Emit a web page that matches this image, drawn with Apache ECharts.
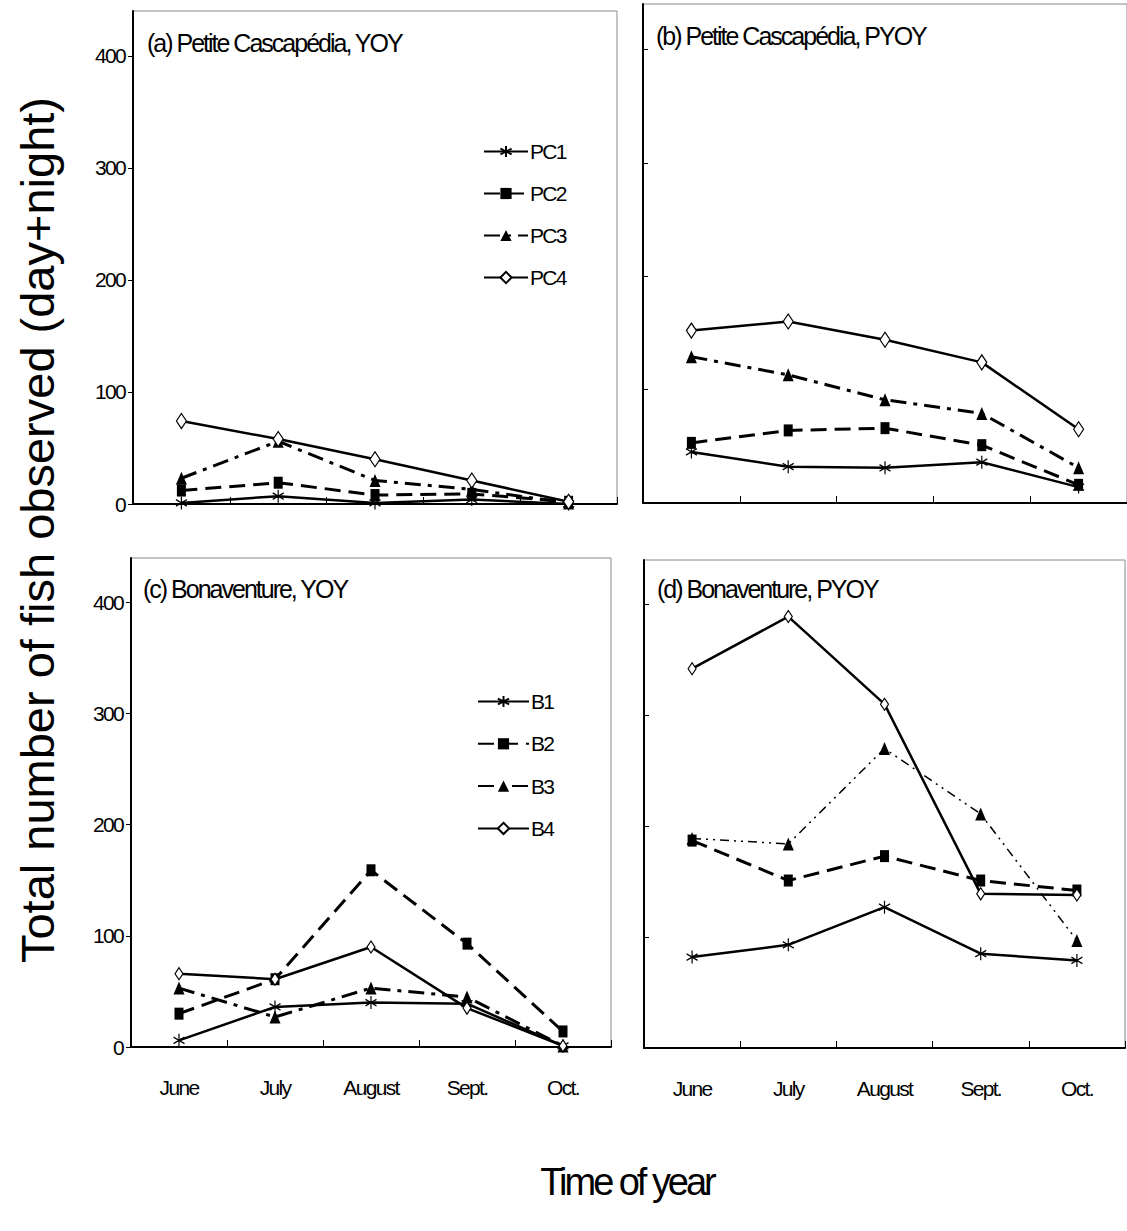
<!DOCTYPE html>
<html lang="en">
<head>
<meta charset="utf-8">
<title>Total number of fish observed</title>
<script src="https://cdn.jsdelivr.net/npm/echarts@6/dist/echarts.min.js"></script>
<style>
  html, body { margin: 0; padding: 0; background: #fff; }
  #main { width: 1127px; height: 1231px; }
  /* the original lettering is set very tight */
  #main svg text { letter-spacing: -0.08em; }
  /* except the rotated axis title */
  #main svg text[transform*="matrix"] { letter-spacing: 0; }
</style>
</head>
<body>
<div id="main"></div>
<script type="text/javascript">
    var months = ['June', 'July', 'August', 'Sept.', 'Oct.'];
    var yTicks = [0, 100, 200, 300, 400];

    // (a) Petite Cascapédia, YOY
    var pcYoy1 = [1, 7, 1, 4, 0];
    var pcYoy2 = [12, 19, 8, 9, 2];
    var pcYoy3 = [23, 56, 21, 13, 1];
    var pcYoy4 = [74, 58, 40, 21, 2];
    // (b) Petite Cascapédia, PYOY
    var pcPyoy1 = [45, 32, 31, 36, 14];
    var pcPyoy2 = [53, 64, 66, 51, 16];
    var pcPyoy3 = [129, 113, 91, 79, 31];
    var pcPyoy4 = [152, 160, 144, 124, 65];
    // (c) Bonaventure, YOY
    var bYoy1 = [6, 36, 40, 39, 1];
    var bYoy2 = [30, 61, 159, 93, 14];
    var bYoy3 = [53, 27, 53, 45, 1];
    var bYoy4 = [66, 61, 90, 35, 1];
    // (d) Bonaventure, PYOY
    var bPyoy1 = [82, 93, 127, 85, 79];
    var bPyoy2 = [187, 151, 173, 151, 142];
    var bPyoy3 = [189, 184, 270, 211, 97];
    var bPyoy4 = [342, 389, 310, 139, 138];

    var FONT = "'Liberation Sans', Arial, sans-serif";
    var ASTER = 'path://M10,0L10,20M1.34,5L18.66,15M1.34,15L18.66,5';

    // grids: a, b, c, d
    var panels = [
        {box: {left: 133, top: 11, width: 484, height: 493}, yLabels: true, xLabels: false, inside: false},
        {box: {left: 643, top: 4, width: 486, height: 499}, yLabels: false, xLabels: false, inside: true},
        {box: {left: 131, top: 558, width: 480, height: 489}, yLabels: true, xLabels: true, inside: false},
        {box: {left: 644, top: 560, width: 481, height: 488}, yLabels: false, xLabels: true, inside: true}
    ];

    function lineSeries(name, data, idx, kind, small) {
        var s = {
            name: name, type: 'line', xAxisIndex: idx, yAxisIndex: idx, data: data,
            animation: false, emphasis: {disabled: true},
            lineStyle: {color: '#000', width: 2.5, type: 'solid'},
            itemStyle: {color: '#000'}
        };
        if (kind === 'star') {
            s.symbol = ASTER;
            s.symbolSize = [11, 13];
            s.itemStyle = {color: 'rgba(0,0,0,0)', borderColor: '#000', borderWidth: 1.3};
            s.z = 4;
        } else if (kind === 'square') {
            s.symbol = 'rect';
            s.symbolSize = [9, 12];
            s.lineStyle.width = 3;
            s.lineStyle.type = [16, 8];
            s.z = 3;
        } else if (kind === 'tri') {
            s.symbol = 'triangle';
            s.symbolSize = [11, 13];
            s.lineStyle.width = 3;
            s.lineStyle.type = [16, 7, 4, 7];
            s.z = 2;
        } else if (kind === 'tri-thin') {
            s.symbol = 'triangle';
            s.symbolSize = [11, 13];
            s.lineStyle.width = 1.5;
            s.lineStyle.type = [9, 5, 2, 5, 2, 5];
            s.z = 2;
        } else {
            s.symbol = 'diamond';
            s.symbolSize = small ? [8, 12] : [10, 15];
            s.itemStyle = {color: '#fff', borderColor: '#000', borderWidth: 1.2};
            s.z = 5;
        }
        return s;
    }

    var grids = [], xAxes = [], yAxes = [];
    panels.forEach(function (p, i) {
        grids.push({left: p.box.left, top: p.box.top, width: p.box.width, height: p.box.height,
            show: true, borderColor: '#888', borderWidth: 1, containLabel: false});
        xAxes.push({
            type: 'category', gridIndex: i, data: months, boundaryGap: true,
            axisLine: {lineStyle: {color: '#000', width: 2}},
            axisTick: {show: true, inside: true, length: 7, alignWithLabel: false, lineStyle: {color: '#000', width: 1}},
            axisLabel: {show: p.xLabels, color: '#000', fontSize: 21, fontFamily: FONT, margin: 30},
            splitLine: {show: false}
        });
        yAxes.push({
            type: 'value', gridIndex: i, min: 0, max: 440, interval: 100,
            axisLine: {show: true, lineStyle: {color: '#000', width: 2}},
            axisTick: {show: true, inside: p.inside, length: 5, customValues: yTicks, lineStyle: {color: '#000', width: 1}},
            axisLabel: {show: p.yLabels, customValues: yTicks, color: '#000', fontSize: 21, fontFamily: FONT, margin: 8},
            splitLine: {show: false}
        });
    });

    var series = [
        lineSeries('PC1', pcYoy1, 0, 'star'),
        lineSeries('PC2', pcYoy2, 0, 'square'),
        lineSeries('PC3', pcYoy3, 0, 'tri'),
        lineSeries('PC4', pcYoy4, 0, 'diamond'),
        lineSeries('PC1', pcPyoy1, 1, 'star'),
        lineSeries('PC2', pcPyoy2, 1, 'square'),
        lineSeries('PC3', pcPyoy3, 1, 'tri'),
        lineSeries('PC4', pcPyoy4, 1, 'diamond'),
        lineSeries('B1', bYoy1, 2, 'star'),
        lineSeries('B2', bYoy2, 2, 'square'),
        lineSeries('B3', bYoy3, 2, 'tri'),
        lineSeries('B4', bYoy4, 2, 'diamond', true),
        lineSeries('B1', bPyoy1, 3, 'star'),
        lineSeries('B2', bPyoy2, 3, 'square'),
        lineSeries('B3', bPyoy3, 3, 'tri-thin'),
        lineSeries('B4', bPyoy4, 3, 'diamond', true)
    ];

    var legendText = {color: '#000', fontSize: 21, fontFamily: FONT, padding: [0, 0, 0, -3]};

    var option = {
        backgroundColor: '#fff',
        animation: false,
        grid: grids,
        xAxis: xAxes,
        yAxis: yAxes,
        legend: [
            {data: ['PC1', 'PC2', 'PC3', 'PC4'], orient: 'vertical', left: 478, top: 136,
                itemWidth: 44, itemHeight: 14, itemGap: 21, selectedMode: false, textStyle: legendText},
            {data: ['B1', 'B2', 'B3', 'B4'], orient: 'vertical', left: 472, top: 686,
                itemWidth: 51, itemHeight: 14, itemGap: 21.3, selectedMode: false, textStyle: legendText}
        ],
        graphic: [
            {type: 'text', left: 147, top: 30, style: {text: '(a) Petite Cascapédia, YOY', fill: '#000', fontSize: 25, fontFamily: FONT}},
            {type: 'text', left: 656, top: 23, style: {text: '(b) Petite Cascapédia, PYOY', fill: '#000', fontSize: 25, fontFamily: FONT}},
            {type: 'text', left: 143, top: 576, style: {text: '(c) Bonaventure, YOY', fill: '#000', fontSize: 25, fontFamily: FONT}},
            {type: 'text', left: 657, top: 576, style: {text: '(d) Bonaventure, PYOY', fill: '#000', fontSize: 25, fontFamily: FONT}},
            {type: 'text', x: 37, y: 530, rotation: Math.PI / 2,
                style: {text: 'Total number of fish observed (day+night)', fill: '#000', fontSize: 47,
                    fontFamily: FONT, align: 'center', verticalAlign: 'middle'}},
            {type: 'text', x: 627, y: 1182,
                style: {text: 'Time of year', fill: '#000', fontSize: 38, fontFamily: FONT,
                    align: 'center', verticalAlign: 'middle'}}
        ],
        series: series
    };

    var chart = echarts.init(document.getElementById('main'), null, {renderer: 'svg'});
    chart.setOption(option);
</script>
</body>
</html>
